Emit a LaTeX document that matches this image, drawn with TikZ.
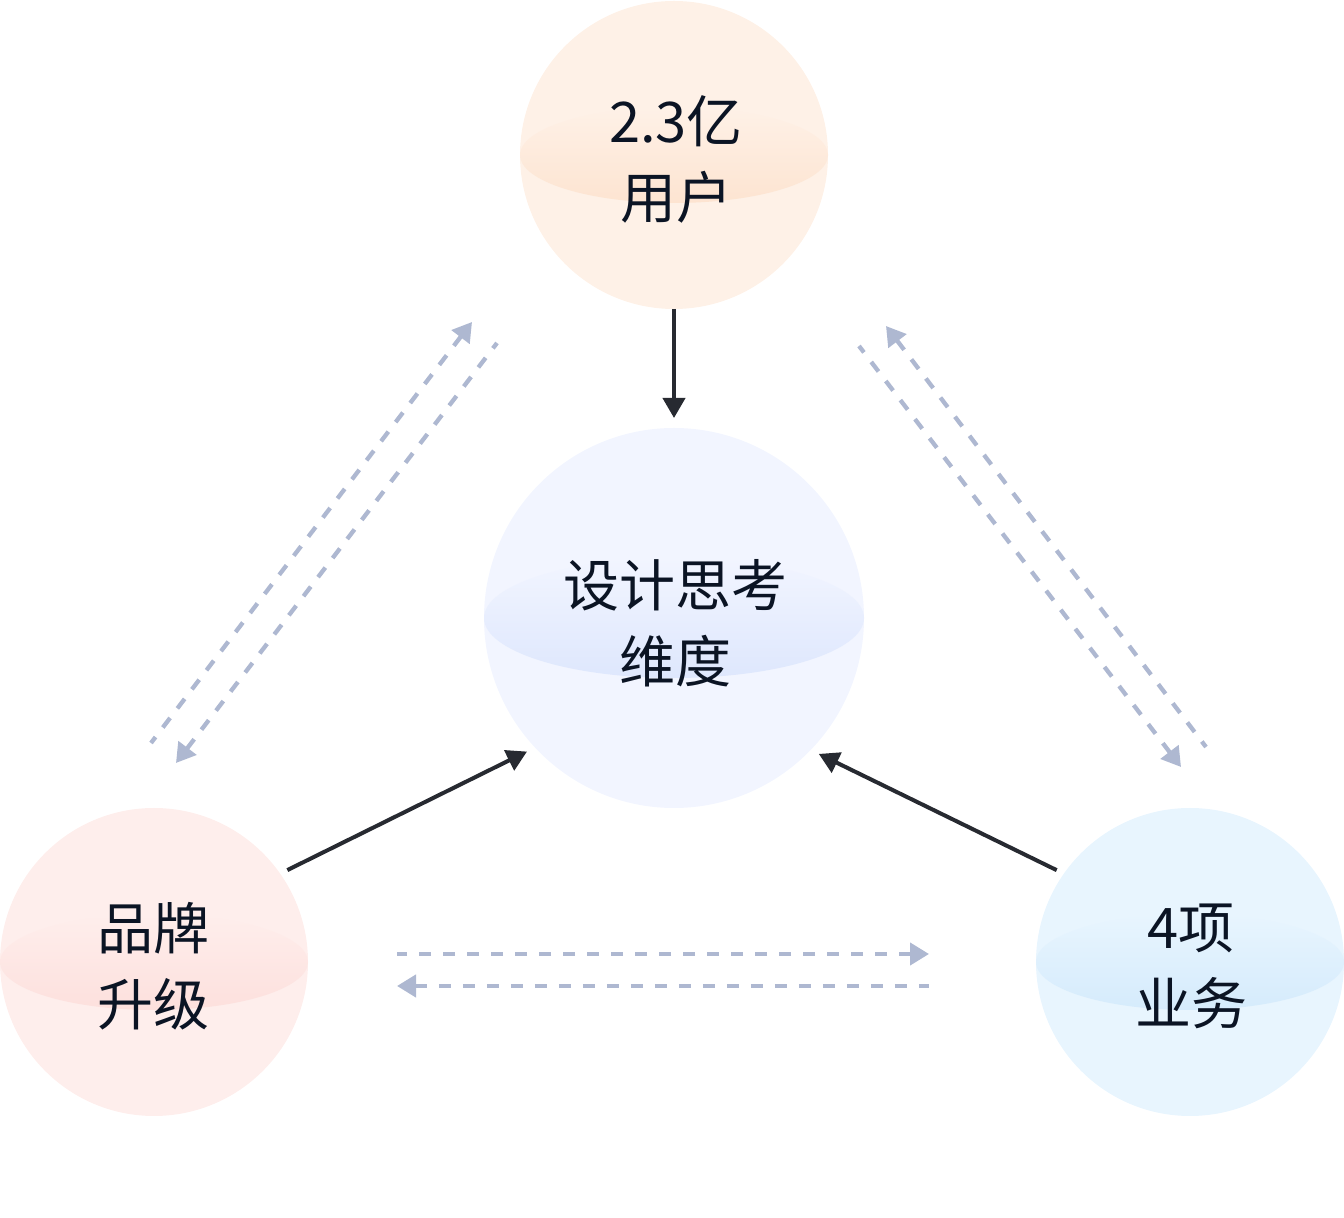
\documentclass[tikz,border=0pt]{standalone}
\usepackage{fontspec}
\newfontfamily\cjk{Noto Sans CJK SC}
\usetikzlibrary{arrows.meta}
\definecolor{tbase}{HTML}{FEF1E7}
\definecolor{tband}{HTML}{FDE4D1}
\definecolor{cbase}{HTML}{F2F5FF}
\definecolor{cband}{HTML}{DEE7FD}
\definecolor{lbase}{HTML}{FEEEEC}
\definecolor{lband}{HTML}{FDE0DD}
\definecolor{rbase}{HTML}{E8F5FE}
\definecolor{rband}{HTML}{D5EBFC}
\definecolor{darkc}{HTML}{272A31}
\definecolor{dashc}{HTML}{AEB8D1}
\definecolor{txt}{HTML}{0B1424}
\begin{document}
\begin{tikzpicture}[x=1pt,y=1pt,
  ball/.style={circle, inner sep=0pt, outer sep=0pt, minimum size=#1},
  band/.style 2 args={top color=#1, middle color=#2!35!#1, bottom color=#2},
  lbl/.style={align=center, font=\cjk\fontsize{56}{76}\selectfont, text=txt, inner sep=0pt},
  solidarrow/.style={draw=darkc, line width=4pt, -{Triangle[length=20pt,width=22pt]}},
  dasharrow/.style={draw=dashc, line width=4.3pt, dash pattern=on 12pt off 12pt, {Triangle[length=19pt,width=22pt]}-}
]
\useasboundingbox (0,0) rectangle (1344,1218);

% spheres
\node[ball=308pt, fill=tbase] (T) at (674,1063) {};
\shade[band={tbase}{tband}] (674,1063) ellipse [x radius=154, y radius=48];
\node[ball=380pt, fill=cbase] (C) at (674,600) {};
\shade[band={cbase}{cband}] (674,600) ellipse [x radius=190, y radius=60];
\node[ball=308pt, fill=lbase] (L) at (154,256) {};
\shade[band={lbase}{lband}] (154,256) ellipse [x radius=154, y radius=48];
\node[ball=308pt, fill=rbase] (R) at (1190,256) {};
\shade[band={rbase}{rband}] (1190,256) ellipse [x radius=154, y radius=48];

% labels
\node[lbl] (Tt) at (676,1059) {2.3亿\\用户};
\node[lbl] (Ct) at (675,595) {设计思考\\维度};
\node[lbl] (Lt) at (153,252) {品牌\\升级};
\node[lbl] (Rt) at (1191,252) {4项\\业务};

% solid arrows
\draw[solidarrow, shorten >=10pt] (T.south) -- (C.north);
\draw[solidarrow, shorten <=8pt, shorten >=9pt] (L.35) -- (C.223.6);
\draw[solidarrow, shorten <=8pt, shorten >=9pt] (R.145) -- (C.316.4);

% dashed arrows
\coordinate (a1) at (151,475);  \coordinate (a2) at (472,896);
\coordinate (b1) at (497,875);  \coordinate (b2) at (176,455);
\coordinate (c1) at (1206,471); \coordinate (c2) at (886,892);
\coordinate (d1) at (859,872);  \coordinate (d2) at (1181,451);
\coordinate (e1) at (397,264);  \coordinate (e2) at (929,264);
\coordinate (f1) at (929,232);  \coordinate (f2) at (397,232);
\draw[dasharrow] (a2) -- (a1);
\draw[dasharrow] (b2) -- (b1);
\draw[dasharrow] (c2) -- (c1);
\draw[dasharrow] (d2) -- (d1);
\draw[dasharrow] (e2) -- (e1);
\draw[dasharrow] (f2) -- (f1);
\end{tikzpicture}
\end{document}
